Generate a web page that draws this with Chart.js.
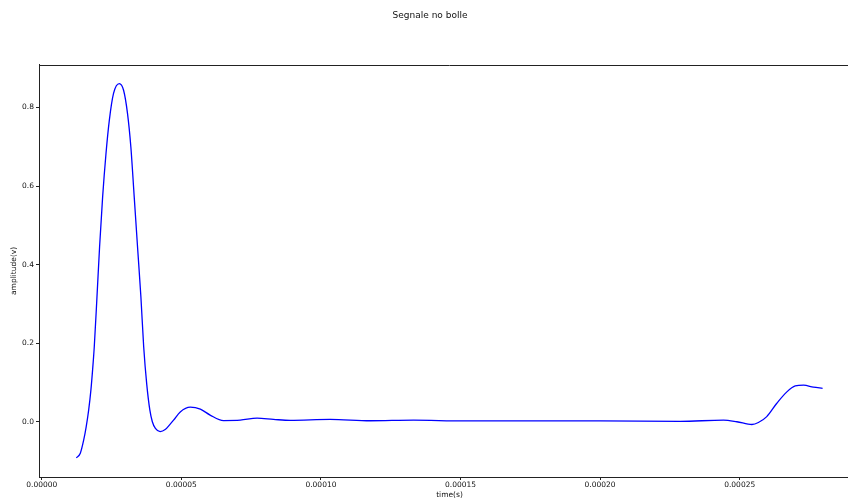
<!DOCTYPE html>
<html lang="it">
<head>
    <meta charset="UTF-8">
    <title>Segnale no bolle</title>
    <script src="https://cdn.jsdelivr.net/npm/chart.js"></script>
    <style>
        html, body { margin: 0; padding: 0; background: #fff; overflow: hidden; }
        #wrap { width: 872px; height: 500px; }
    </style>
</head>
<body>
    <div id="wrap"><canvas id="signalChart"></canvas></div>

    <script>
        // tempi (s) e ampiezze (V)
        const times = [
            1.236e-5, 1.38e-5, 1.50e-5, 1.59e-5, 1.68e-5, 1.76e-5, 1.82e-5, 1.88e-5,
            1.977e-5, 2.07e-5, 2.18e-5, 2.30e-5, 2.42e-5, 2.57e-5, 2.776e-5, 2.93e-5,
            3.07e-5, 3.19e-5, 3.31e-5, 3.43e-5, 3.55e-5, 3.65e-5, 3.76e-5, 3.87e-5,
            3.96e-5, 4.07e-5, 4.24e-5, 4.42e-5, 4.60e-5, 4.72e-5, 4.96e-5, 5.32e-5,
            5.68e-5, 6.03e-5, 6.51e-5, 7.11e-5, 7.71e-5, 8.30e-5, 8.90e-5, 1.033e-4,
            1.177e-4, 1.332e-4, 1.511e-4, 1.75e-4, 2.0e-4, 2.287e-4, 2.442e-4, 2.49e-4,
            2.544e-4, 2.567e-4, 2.597e-4, 2.633e-4, 2.669e-4, 2.699e-4, 2.729e-4, 2.764e-4,
            2.797e-4
        ];
        const amplitude = [
            -0.092, -0.080, -0.047, -0.013, 0.030, 0.081, 0.132, 0.191,
            0.318, 0.445, 0.573, 0.683, 0.768, 0.836, 0.861, 0.844,
            0.785, 0.700, 0.573, 0.445, 0.318, 0.191, 0.095, 0.030,
            0.0, -0.017, -0.025, -0.020, -0.006, 0.004, 0.025, 0.037,
            0.032, 0.017, 0.003, 0.004, 0.009, 0.006, 0.0035, 0.006,
            0.0025, 0.004, 0.002, 0.002, 0.002, 0.001, 0.004, 0.0,
            -0.007, -0.002, 0.013, 0.047, 0.076, 0.091, 0.093, 0.088,
            0.085
        ];
        const xTicks = [0, 0.00005, 0.0001, 0.00015, 0.0002, 0.00025];
        const yTicks = [0.0, 0.2, 0.4, 0.6, 0.8];

        const points = times.map((t, i) => ({ x: t, y: amplitude[i] }));
        const font = { family: "'DejaVu Sans', sans-serif", size: 7.5 };

        // linea superiore del riquadro (stile matplotlib)
        const topSpine = {
            id: 'topSpine',
            afterDraw(chart) {
                const { ctx, chartArea } = chart;
                ctx.save();
                ctx.strokeStyle = '#222';
                ctx.lineWidth = 1;
                ctx.beginPath();
                ctx.moveTo(chartArea.left, Math.round(chartArea.top) + 0.5);
                ctx.lineTo(chartArea.right, Math.round(chartArea.top) + 0.5);
                ctx.stroke();
                ctx.restore();
            }
        };

        new Chart("signalChart", {
            type: "line",
            data: {
                datasets: [{
                    data: points,
                    borderColor: "#0000ff",
                    borderWidth: 1.3,
                    pointRadius: 0,
                    cubicInterpolationMode: "monotone",
                    fill: false
                }]
            },
            options: {
                responsive: true,
                maintainAspectRatio: false,
                animation: false,
                layout: { padding: { left: 0, right: 12, top: 0, bottom: 0 } },
                plugins: {
                    legend: { display: false },
                    tooltip: { enabled: false },
                    title: {
                        display: true,
                        text: "Segnale no bolle",
                        color: "#111",
                        font: { family: font.family, size: 9, weight: "normal" },
                        padding: { top: 10, bottom: 44 }
                    }
                },
                scales: {
                    x: {
                        type: "linear",
                        min: -1.0e-6,
                        max: 2.931e-4,
                        afterBuildTicks: s => { s.ticks = xTicks.map(v => ({ value: v })); },
                        afterFit: s => { s.height = 23; },
                        grid: { drawOnChartArea: false, drawTicks: true, tickLength: 3, color: "#222" },
                        border: { display: true, color: "#222", width: 1 },
                        ticks: {
                            color: "#111", font: font, padding: 1, maxRotation: 0,
                            callback: v => v.toFixed(5)
                        },
                        title: {
                            display: true, text: "time(s)", color: "#111", font: font,
                            padding: { top: 0, bottom: 0 }
                        }
                    },
                    y: {
                        min: -0.1407,
                        max: 0.9087,
                        afterBuildTicks: s => { s.ticks = yTicks.map(v => ({ value: v })); },
                        afterFit: s => { s.width = 39; },
                        grid: { drawOnChartArea: false, drawTicks: true, tickLength: 3, color: "#222" },
                        border: { display: true, color: "#222", width: 1 },
                        ticks: {
                            color: "#111", font: font, padding: 2,
                            callback: v => v.toFixed(1)
                        },
                        title: {
                            display: true, text: "amplitude(v)", color: "#111", font: font,
                            padding: { top: 10, bottom: 0 }
                        }
                    }
                }
            },
            plugins: [topSpine]
        });
    </script>
</body>
</html>
